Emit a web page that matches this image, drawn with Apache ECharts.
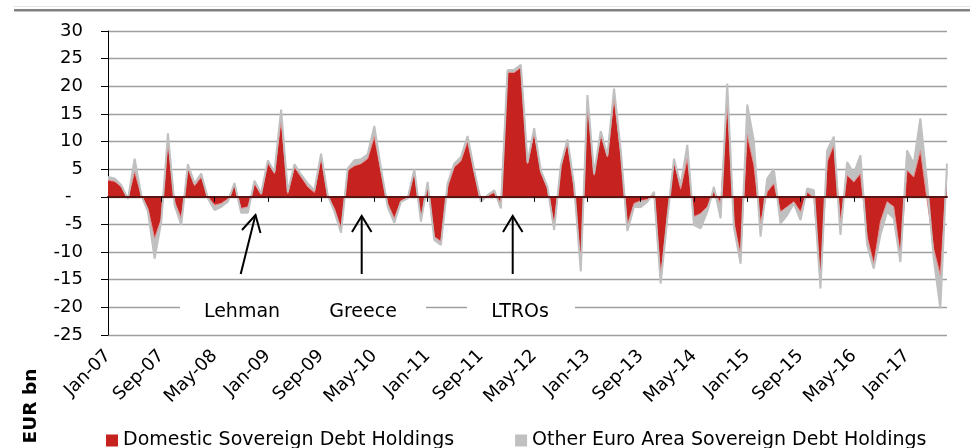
<!DOCTYPE html>
<html>
<head>
<meta charset="utf-8">
<script src="https://cdn.jsdelivr.net/npm/echarts@6/dist/echarts.min.js"></script>
<style>
  html, body { margin: 0; padding: 0; background: #fff; }
  #chart { width: 970px; height: 448px; }
</style>
</head>
<body>
<div id="chart"></div>
<script>
// monthly flows, EUR bn, Jan-07 .. Jul-17
const monthNames = ["Jan","Feb","Mar","Apr","May","Jun","Jul","Aug","Sep","Oct","Nov","Dec"];
const firstYear = 2007, lastYear = 2017, lastMonth = 7;

const domestic = [
  3.0, 2.8, 1.8, -0.2, 4.5, 0.3, -2.1, -7.5, -4.0, 10.0, -0.9, -3.9,
  5.1, 2.0, 3.6, 0.0, -1.5, -1.2, -0.4, 2.1, -2.1, -1.8, 2.4, 0.4,
  6.2, 4.2, 13.9, 0.6, 5.4, 3.6, 1.8, 0.8, 7.2, 0.0, -2.1, -5.7,
  4.8, 5.6, 6.0, 6.9, 10.9, 4.5, -1.2, -3.9, -0.7, -0.2, 4.5, -3.9,
  2.2, -7.2, -8.1, 1.8, 5.4, 6.5, 10.0, 4.4, -0.3, 0.2, 0.8, -1.2,
  22.5, 22.5, 23.4, 6.0, 11.6, 4.4, 1.5, -5.1, 5.4, 9.8, 1.7, -12.4,
  17.5, 3.9, 11.2, 7.2, 17.8, 7.8, -5.1, -1.2, -0.7, -0.5, 0.6, -14.5,
  -3.5, 6.5, 1.4, 6.9, -3.6, -3.0, -1.8, 1.2, -1.2, 17.2, -4.5, -10.6,
  11.2, 5.7, -4.8, 0.9, 2.4, -2.7, -1.8, -0.9, -2.7, 0.9, -0.2, -15.4,
  6.3, 9.4, -4.5, 3.9, 2.7, 4.2, -7.2, -12.1, -4.5, -0.9, -1.8, -10.6,
  4.8, 3.6, 8.4, -0.5, -9.4, -14.2, 4.5
];
const otherEA = [
  0.6, 0.5, 0.3, -0.2, 2.4, 0.0, -0.6, -3.7, -0.5, 1.5, -0.6, -1.2,
  0.8, 0.4, 0.6, -0.3, -0.9, -0.6, -0.5, 0.4, -0.8, -1.1, 0.5, 0.2,
  0.4, 0.3, 1.9, 0.3, 0.5, 0.4, 0.6, 0.4, 0.6, 0.3, -0.6, -0.8,
  0.3, 1.0, 0.8, 0.8, 1.9, 0.6, -0.6, -0.8, -0.2, -0.1, 0.5, -0.6,
  0.5, -0.6, -0.6, 0.6, 0.6, 0.7, 1.0, 0.4, -0.6, 0.1, 0.4, -0.9,
  0.4, 0.5, 0.5, 0.2, 0.8, 0.4, 0.3, -0.9, 0.3, 0.6, 0.4, -1.1,
  0.9, 0.3, 0.7, 0.3, 1.8, 0.7, -1.1, -0.6, -1.2, -0.4, 0.3, -1.2,
  -0.5, 0.4, 0.7, 2.5, -1.5, -2.7, -0.9, 0.6, -2.7, 3.3, -1.0, -1.5,
  5.5, 4.3, -2.4, 2.4, 2.6, -2.1, -1.5, -0.3, -1.5, 0.6, 1.4, -1.2,
  2.1, 1.5, -2.4, 2.4, 1.5, 3.3, -1.5, -0.9, -2.4, -1.8, -2.1, -1.2,
  3.6, 2.4, 5.8, 3.2, -1.8, -6.0, 1.5
];
const yTicks = [-25, -20, -15, -10, -5, 0, 5, 10, 15, 20, 25, 30];
const events = ["Lehman", "Greece", "LTROs"];

const months = [];
for (let y = firstYear; y <= lastYear; y++) {
  for (let m = 0; m < 12; m++) {
    if (y === lastYear && m >= lastMonth) break;
    months.push(`${monthNames[m]}-${String(y).slice(2)}`);
  }
}

const FONT = "DejaVu Sans";
const RED = "#c62320", GREY = "#c0c0c0";

const chart = echarts.init(document.getElementById("chart"));

const arrow = (x1, y1, x2, y2, hl, hr) => [
  { type: "line", z: 60, shape: { x1, y1, x2, y2 }, style: { stroke: "#000", lineWidth: 2 } },
  { type: "polyline", z: 60, shape: { points: [hl, [x2, y2], hr] }, style: { stroke: "#000", lineWidth: 2, fill: null } },
];

chart.setOption({
  animation: false,
  textStyle: { fontFamily: FONT },
  grid: { left: 108, right: 23, top: 31, bottom: 113 },
  legend: {
    left: 106, top: 431, padding: 0, itemWidth: 12, itemHeight: 12, itemGap: 61, icon: "rect",
    textStyle: { fontFamily: FONT, fontSize: 19, color: "#000" },
    data: ["Domestic Sovereign Debt Holdings", "Other Euro Area Sovereign Debt Holdings"],
  },
  xAxis: [
    {
      type: "category", data: months, boundaryGap: false, z: 5,
      axisLine: { onZero: true, lineStyle: { color: "#5a1414", width: 2 } },
      axisTick: { show: true, interval: 7, length: 5, lineStyle: { color: "#000" } },
      axisLabel: { show: false },
      splitLine: { show: false },
    },
    {
      type: "category", data: months, boundaryGap: false, position: "bottom",
      axisLine: { show: false, onZero: false }, axisTick: { show: false },
      axisLabel: { interval: 7, rotate: 45, margin: 18, fontFamily: FONT, fontSize: 18, color: "#000" },
    },
  ],
  yAxis: {
    type: "value", min: yTicks[0], max: yTicks[yTicks.length - 1], interval: 5,
    axisLine: { show: true, lineStyle: { color: "#000", width: 1 } },
    axisTick: { show: true, length: 7, lineStyle: { color: "#000" } },
    axisLabel: {
      margin: 25, fontFamily: FONT, fontSize: 18, color: "#000",
      formatter: v => (v === 0 ? "-  " : String(v)),
    },
    splitLine: { lineStyle: { color: "#a0a0a0", width: 1.3 } },
  },
  series: [
    {
      name: "Domestic Sovereign Debt Holdings", type: "line", stack: "total", stackStrategy: "all",
      data: domestic, showSymbol: false, symbol: "none",
      itemStyle: { color: RED },
      lineStyle: { color: "#e08a8a", width: 1 },
      areaStyle: { color: RED, opacity: 1 },
    },
    {
      name: "Other Euro Area Sovereign Debt Holdings", type: "line", stack: "total", stackStrategy: "all",
      data: otherEA, showSymbol: false, symbol: "none",
      itemStyle: { color: GREY },
      lineStyle: { color: GREY, width: 2 },
      areaStyle: { color: GREY, opacity: 1 },
    },
  ],
  graphic: [
    { type: "rect", z: 0, shape: { x: 14, y: 6, width: 956, height: 1 }, style: { fill: "#e4e4e4" } },
    { type: "rect", z: 0, shape: { x: 14, y: 9, width: 956, height: 2.5 }, style: { fill: "#808080" } },
    { type: "rect", z: 50, shape: { x: 180, y: 292, width: 246, height: 32 }, style: { fill: "#fff" } },
    { type: "rect", z: 50, shape: { x: 467, y: 292, width: 108, height: 32 }, style: { fill: "#fff" } },
    { type: "text", z: 60, x: 242, y: 312, style: { text: events[0], font: `19px "${FONT}"`, fill: "#000", align: "center", verticalAlign: "middle" } },
    { type: "text", z: 60, x: 363, y: 312, style: { text: events[1], font: `19px "${FONT}"`, fill: "#000", align: "center", verticalAlign: "middle" } },
    { type: "text", z: 60, x: 520, y: 312, style: { text: events[2], font: `19px "${FONT}"`, fill: "#000", align: "center", verticalAlign: "middle" } },
    ...arrow(240.7, 274, 255.5, 215, [242, 230], [260.5, 233]),
    ...arrow(361.7, 274, 361.7, 216, [352, 232], [371.5, 232]),
    ...arrow(512.7, 274, 512.7, 216, [503, 232], [522.5, 232]),
    { type: "text", z: 60, x: 31, y: 406, rotation: Math.PI / 2,
      style: { text: "EUR bn", font: `bold 18.5px "${FONT}"`, fill: "#000", align: "center", verticalAlign: "middle" } },
  ],
});
</script>
</body>
</html>
